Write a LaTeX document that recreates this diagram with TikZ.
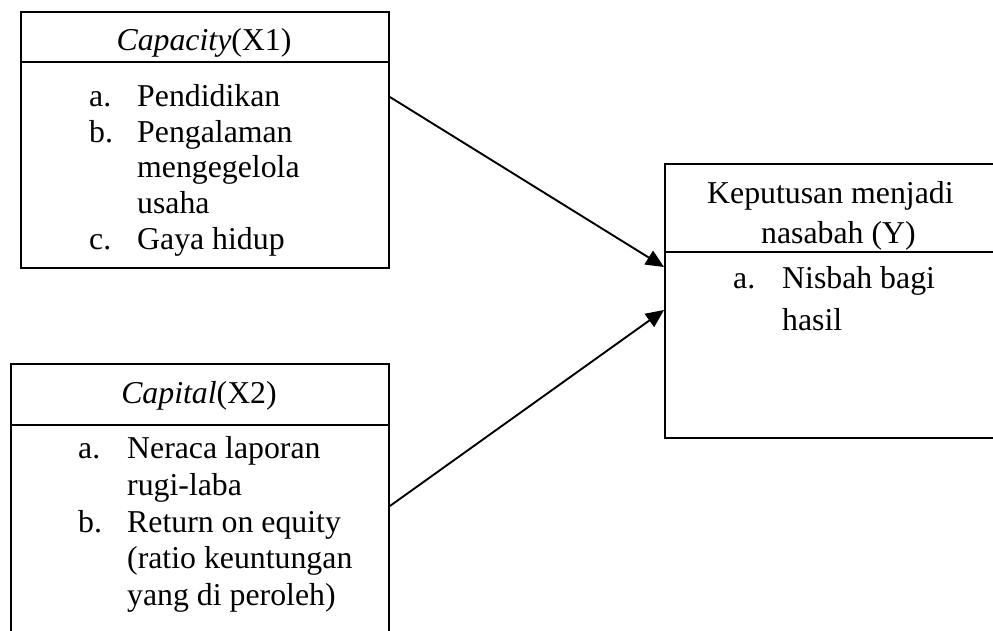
\documentclass[tikz,border=0pt]{standalone}
\usepackage{fontspec}
\setmainfont{Liberation Serif}
\usetikzlibrary{arrows.meta}
\begin{document}
\begin{tikzpicture}[x=1pt,y=-1pt,
  box/.style={draw,line width=1.9pt,rectangle,inner sep=0pt,anchor=north west},
  divider/.style={line width=1.9pt},
  txt/.style={inner sep=0pt,anchor=base west,font=\fontsize{31.8}{36}\selectfont},
  ctxt/.style={inner sep=0pt,anchor=base,font=\fontsize{31.8}{36}\selectfont},
  conn/.style={line width=1.9pt,-{Triangle[length=18pt,width=16pt]}}]
\useasboundingbox (0,0) rectangle (993,630);
\clip (0,0) rectangle (993,630);
% boxes
\node[box,minimum width=368pt,minimum height=256pt] (b1) at (20,11) {};
\node[box,minimum width=378pt,minimum height=300pt] (b2) at (10,363) {};
\node[box,minimum width=360pt,minimum height=274pt] (b3) at (664,163) {};
% header dividers
\draw[divider] (b1.west |- 0,62) -- (b1.east |- 0,62);
\draw[divider] (b2.west |- 0,425) -- (b2.east |- 0,425);
\draw[divider] (b3.west |- 0,252) -- (b3.east |- 0,252);
% box 1 texts
\node[ctxt] (t1) at (204,50) {\textit{Capacity}(X1)};
\node[txt] (l1a) at (89,106) {a.};
\node[txt] (i1a) at (137,106) {Pendidikan};
\node[txt] (l1b) at (89,142) {b.};
\node[txt] (i1b) at (137,142) {Pengalaman};
\node[txt] (i1b2) at (137,177) {mengegelola};
\node[txt] (i1b3) at (137,213) {usaha};
\node[txt] (l1c) at (89,249) {c.};
\node[txt] (i1c) at (137,249) {Gaya hidup};
% box 2 texts
\node[ctxt] (t2) at (199,403) {\textit{Capital}(X2)};
\node[txt] (l2a) at (78,458) {a.};
\node[txt] (i2a) at (127,458) {Neraca laporan};
\node[txt] (i2a2) at (127,495) {rugi-laba};
\node[txt] (l2b) at (78,532) {b.};
\node[txt] (i2b) at (127,532) {Return on equity};
\node[txt] (i2b2) at (127,568) {(ratio keuntungan};
\node[txt] (i2b3) at (127,605) {yang di peroleh)};
% box 3 texts
\node[txt] (t3a) at (707,203) {Keputusan menjadi};
\node[txt] (t3b) at (761,243) {nasabah (Y)};
\node[txt] (l3a) at (733,288) {a.};
\node[txt] (i3a) at (782,288) {Nisbah bagi};
\node[txt] (i3a2) at (782,330) {hasil};
% connectors
\coordinate (s1) at (b1.east |- 0,97);
\coordinate (e1) at (b3.west |- 0,267);
\coordinate (s2) at (b2.east |- 0,506);
\coordinate (e2) at (b3.west |- 0,310);
\draw[conn] (s1) -- (e1);
\draw[conn] (s2) -- (e2);
\end{tikzpicture}
\end{document}
